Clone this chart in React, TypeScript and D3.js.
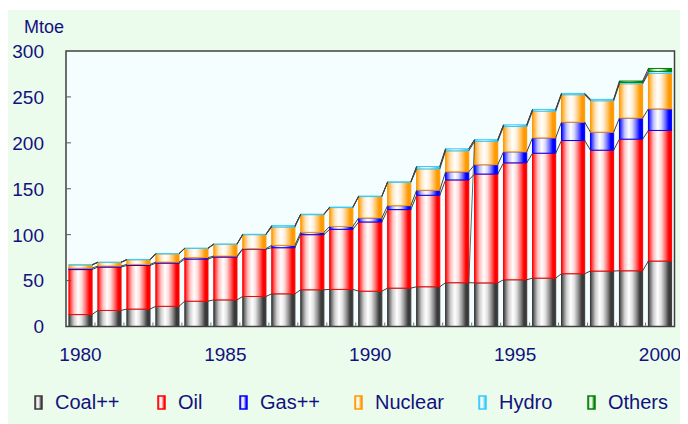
import React, { useEffect, useRef } from "react";
import * as d3 from "d3";

const years = [1980,1981,1982,1983,1984,1985,1986,1987,1988,1989,1990,1991,1992,1993,1994,1995,1996,1997,1998,1999,2000];
const coal =    [13, 17.5, 19, 22, 27.6, 29, 32.7, 35.6, 40, 40.4, 38.5, 41.8, 43.3, 47.7, 47.5, 50.9, 52.7, 57.5, 60.4, 60.7, 71.3];
const oil =     [49, 47.2, 47.5, 47, 45.8, 46.6, 51.6, 50.2, 60, 65.4, 75.3, 85.5, 99.6, 111.9, 118.5, 127.3, 136, 145, 131.6, 143.3, 142.2];
const gas =     [1.5, 1.1, 1.1, 1.1, 1.6, 1.1, 0.5, 2.6, 2.5, 3.2, 4.4, 4.3, 5.5, 8.8, 10.2, 12, 16.7, 20, 19.6, 23, 23.5];
const nuclear = [3.5, 4, 5.1, 9, 10, 12.8, 15.2, 19.9, 19.3, 20.5, 23.3, 25.4, 23.2, 22.9, 25.4, 27.6, 29.1, 29.9, 34.2, 37.3, 38.7];
const hydro =   [0.2, 0.2, 0.2, 0.3, 0.3, 0.3, 0.4, 1.5, 0.5, 0.5, 0.5, 0.5, 2.6, 2.2, 1.8, 1.8, 1.9, 1.4, 1.5, 1.5, 2.1];
const others =  [0, 0, 0, 0, 0, 0, 0, 0, 0, 0, 0, 0, 0, 0, 0, 0, 0, 0, 0, 1.5, 3.2];
const seriesNames = ["Coal++", "Oil", "Gas++", "Nuclear", "Hydro", "Others"];
const seriesColors = ["#3a3a3a", "#ff0000", "#0000ff", "#ff9900", "#33ccff", "#008000"];
const yTicks = [0, 50, 100, 150, 200, 250, 300];
const xLabelYears = [1980, 1985, 1990, 1995, 2000];
const yUnit = "Mtoe";

const W = 680, H = 416;
const M = { left: 58, top: 43, right: 666.5, bottom: 318.5 };
const TEXT = "#12127e";
const FONT = "Arial, 'Liberation Sans', sans-serif";
const LEGEND_X = [27, 150, 232, 347, 471, 580];

export default function App() {
  const ref = useRef<SVGSVGElement>(null);
  useEffect(() => {
    const svg = d3.select(ref.current);
    svg.selectAll("*").remove();

    const rows = years.map((y, i) => ({
      year: y,
      "Coal++": coal[i], Oil: oil[i], "Gas++": gas[i], Nuclear: nuclear[i], Hydro: hydro[i], Others: others[i],
    }));
    const stacked = d3.stack<any>().keys(seriesNames)(rows);

    const x = d3.scaleBand<number>().domain(years).range([M.left, M.right]).paddingInner(0.2).paddingOuter(0.1);
    const y = d3.scaleLinear().domain([0, 300]).range([M.bottom, M.top]);
    const step = x.step();
    const bw = x.bandwidth();

    const defs = svg.append("defs");
    seriesColors.forEach((c, k) => {
      const g = defs.append("linearGradient").attr("id", "grad" + k).attr("x1", "0").attr("x2", "1").attr("y1", "0").attr("y2", "0");
      const mix = (t: number) => d3.interpolateRgb(c, "#ffffff")(t);
      const stops: [number, string][] = [
        [0, c], [0.08, mix(0.3)], [0.22, mix(0.75)], [0.4, "#ffffff"], [0.55, mix(0.85)], [0.72, mix(0.45)], [0.88, c], [1, c],
      ];
      stops.forEach(([o, col]) => g.append("stop").attr("offset", o).attr("stop-color", col));
    });

    svg.append("rect").attr("x", 0).attr("y", 2).attr("width", W).attr("height", H - 2).attr("fill", "#ecfcec");
    svg.append("rect").attr("x", M.left).attr("y", M.top).attr("width", M.right - M.left).attr("height", M.bottom - M.top).attr("fill", "#f5fefe");

    stacked.forEach((s, k) => {
      svg.append("g").selectAll("rect").data(s).join("rect")
        .attr("x", (d: any) => x(d.data.year)!)
        .attr("width", bw)
        .attr("y", (d: any) => y(d[1]))
        .attr("height", (d: any) => Math.max(0, y(d[0]) - y(d[1])))
        .attr("fill", `url(#grad${k})`)
        .attr("stroke", seriesColors[k])
        .attr("stroke-width", 1)
        .attr("display", (d: any) => (d[1] - d[0] > 0 ? null : "none"));
    });

    const lines = svg.append("g").attr("stroke", "#404040").attr("stroke-width", 1).attr("fill", "none");
    stacked.forEach((s) => {
      for (let i = 0; i < s.length - 1; i++) {
        lines.append("line")
          .attr("x1", x(years[i])! + bw).attr("y1", y(s[i][1]))
          .attr("x2", x(years[i + 1])!).attr("y2", y(s[i + 1][1]));
      }
    });
    const i93 = years.indexOf(1993);
    lines.append("line")
      .attr("x1", x(years[i93])! + bw).attr("y1", y(stacked[0][i93][1]))
      .attr("x2", x(years[i93 + 1])!).attr("y2", y(stacked[4][i93 + 1][1]))
      .attr("stroke-width", 0.8);

    svg.append("rect").attr("x", M.left).attr("y", M.top).attr("width", M.right - M.left).attr("height", M.bottom - M.top)
      .attr("fill", "none").attr("stroke", "#404040").attr("stroke-width", 1.5);

    const ya = svg.append("g");
    yTicks.forEach((t) => {
      if (t > 0 && t < 300) ya.append("line").attr("x1", M.left).attr("x2", M.left + 5).attr("y1", y(t)).attr("y2", y(t)).attr("stroke", "#555");
      ya.append("text").attr("x", 36).attr("y", y(t)).attr("dy", "0.36em").attr("text-anchor", "end")
        .attr("fill", TEXT).attr("font-size", 19).attr("font-family", FONT).text(t);
    });
    for (let i = 1; i < years.length; i++) {
      const xb = M.left + step * i;
      svg.append("line").attr("x1", xb).attr("x2", xb).attr("y1", M.bottom).attr("y2", M.bottom - 4).attr("stroke", "#777");
    }
    xLabelYears.forEach((yr) => {
      svg.append("text").attr("x", x(yr)! + bw / 2).attr("y", 353).attr("text-anchor", "middle")
        .attr("fill", TEXT).attr("font-size", 19).attr("font-family", FONT).text(yr);
    });
    svg.append("text").attr("x", 16).attr("y", 25).attr("fill", TEXT).attr("font-size", 18).attr("font-family", FONT).text(yUnit);

    const lg = svg.append("g");
    seriesNames.forEach((n, k) => {
      const lx = LEGEND_X[k];
      lg.append("rect").attr("x", lx).attr("y", 388).attr("width", 7).attr("height", 13)
        .attr("fill", `url(#grad${k})`).attr("stroke", seriesColors[k]).attr("stroke-width", 1.5);
      lg.append("text").attr("x", lx + 20).attr("y", 401).attr("fill", TEXT).attr("font-size", 20).attr("font-family", FONT).text(n);
    });
  }, []);
  return <svg ref={ref} width={W} height={H} style={{ display: "block" }} />;
}
